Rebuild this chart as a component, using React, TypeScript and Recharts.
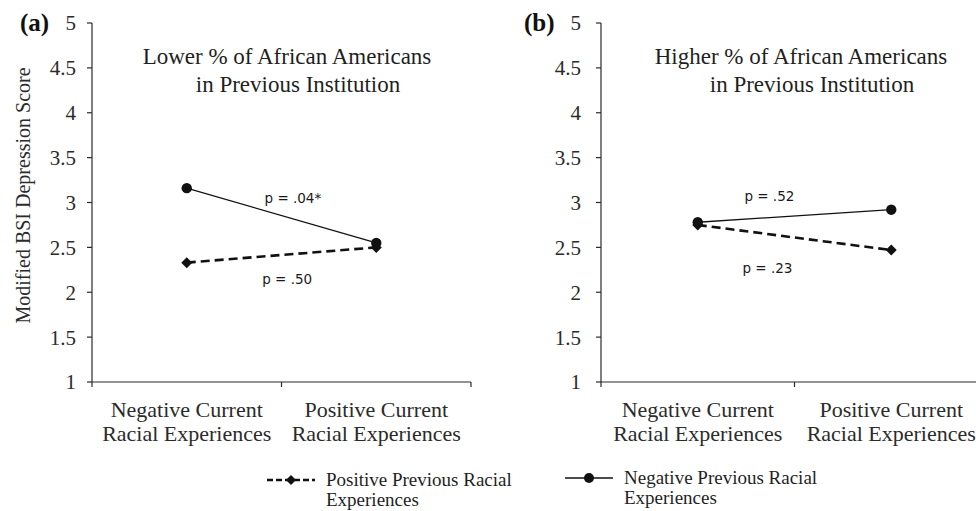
import { LineChart, Line, XAxis, YAxis, ReferenceDot, Label } from 'recharts';

// two-line category names for the x axis
const categories = [
  ['Negative Current', 'Racial Experiences'],
  ['Positive Current', 'Racial Experiences'],
];
const yTicks = [1, 1.5, 2, 2.5, 3, 3.5, 4, 4.5, 5];

// (a) lower % of African Americans in previous institution
const lowerNegPrev = [3.16, 2.55];
const lowerPosPrev = [2.33, 2.5];
// (b) higher % of African Americans in previous institution
const higherNegPrev = [2.78, 2.92];
const higherPosPrev = [2.75, 2.47];

const seriesNames = ['Positive Previous Racial Experiences', 'Negative Previous Racial Experiences'];

const lowerNotes = [
  { text: 'p = .04*', at: [1.06, 3.05] },
  { text: 'p = .50', at: [1.03, 2.15] },
];
const higherNotes = [
  { text: 'p = .52', at: [0.87, 3.07] },
  { text: 'p = .23', at: [0.86, 2.27] },
];

const SERIF = '"Liberation Serif", "Times New Roman", serif';
const SANS = '"DejaVu Sans", Verdana, sans-serif';
const INK = '#2b2b2b';

// each category sits in the middle of its own unit band on a 0..2 axis
const build = (neg: number[], pos: number[]) =>
  categories.map((_, i) => ({ x: i + 0.5, neg: neg[i], pos: pos[i] }));

// eslint-disable-next-line @typescript-eslint/no-explicit-any
const XTick = ({ x, y, payload }: any) => {
  const v = payload.value;
  if (Number.isInteger(v)) {
    return <line x1={x} x2={x} y1={y} y2={y + 5} stroke={INK} strokeWidth={1.2} />;
  }
  const lines = categories[Math.floor(v)];
  return (
    <g>
      {lines.map((t, i) => (
        <text
          key={i}
          x={x}
          y={y + 27 + i * 24}
          textAnchor="middle"
          dominantBaseline="central"
          fontFamily={SERIF}
          fontSize={22}
          fill={INK}
        >
          {t}
        </text>
      ))}
    </g>
  );
};

// eslint-disable-next-line @typescript-eslint/no-explicit-any
const CircleDot = (props: any) => (
  <circle key={`c${props.index}`} cx={props.cx} cy={props.cy} r={5.2} fill="#111" />
);

// eslint-disable-next-line @typescript-eslint/no-explicit-any
const DiamondDot = (props: any) => {
  const { cx, cy } = props;
  return (
    <polygon
      key={`d${props.index}`}
      points={`${cx},${cy - 5.5} ${cx + 5.5},${cy} ${cx},${cy + 5.5} ${cx - 5.5},${cy}`}
      fill="#111"
    />
  );
};

interface PanelProps {
  neg: number[];
  pos: number[];
  notes: { text: string; at: number[] }[];
  left: number;
  marginRight: number;
  tickMargin: number;
  yLabel?: string;
}

function Panel({ neg, pos, notes, left, marginRight, tickMargin, yLabel }: PanelProps) {
  const data = build(neg, pos);
  return (
    <div style={{ position: 'absolute', left, top: 0 }}>
      <LineChart width={490} height={511} data={data} margin={{ top: 23, right: marginRight, bottom: 69, left: 0 }}>
        <XAxis
          type="number"
          dataKey="x"
          domain={[0, 2]}
          ticks={[0, 0.5, 1, 1.5, 2]}
          interval={0}
          tickLine={false}
          tickSize={0}
          tickMargin={0}
          tick={<XTick />}
          height={60}
          stroke={INK}
          strokeWidth={1.2}
        />
        <YAxis
          type="number"
          domain={[1, 5]}
          ticks={yTicks}
          interval={0}
          width={92}
          tickSize={5}
          tickMargin={tickMargin}
          stroke={INK}
          strokeWidth={1.2}
          tick={{ fontFamily: SERIF, fontSize: 21, fill: INK }}
        >
          {yLabel && (
            <Label
              // eslint-disable-next-line @typescript-eslint/no-explicit-any
              content={({ viewBox }: any) => {
                const cx = viewBox.x + 23;
                const cy = viewBox.y + viewBox.height / 2 - 7;
                return (
                  <text
                    x={cx}
                    y={cy}
                    transform={`rotate(-90 ${cx} ${cy})`}
                    textAnchor="middle"
                    dominantBaseline="central"
                    fontFamily={SERIF}
                    fontSize={20}
                    fill={INK}
                  >
                    {yLabel}
                  </text>
                );
              }}
            />
          )}
        </YAxis>
        <Line
          type="linear"
          dataKey="pos"
          stroke="#111"
          strokeWidth={2.6}
          strokeDasharray="9 5"
          dot={DiamondDot}
          activeDot={false}
          isAnimationActive={false}
        />
        <Line
          type="linear"
          dataKey="neg"
          stroke="#111"
          strokeWidth={1.3}
          dot={CircleDot}
          activeDot={false}
          isAnimationActive={false}
        />
        {notes.map((n) => (
          <ReferenceDot
            key={n.text}
            x={n.at[0]}
            y={n.at[1]}
            r={0}
            fill="none"
            stroke="none"
            label={{ value: n.text, position: 'center', fontFamily: SANS, fontSize: 13.5, fill: '#1a1a1a' }}
          />
        ))}
      </LineChart>
    </div>
  );
}

const titleLine = (text: string, cx: number, cy: number) => (
  <div
    style={{
      position: 'absolute',
      left: cx - 200,
      top: cy - 15,
      width: 400,
      lineHeight: '30px',
      textAlign: 'center',
      fontFamily: SERIF,
      fontSize: 23,
      color: '#1f1f1f',
      whiteSpace: 'nowrap',
    }}
  >
    {text}
  </div>
);

const panelTag = (text: string, x: number) => (
  <div
    style={{
      position: 'absolute',
      left: x,
      top: 8,
      lineHeight: '30px',
      fontFamily: SERIF,
      fontWeight: 700,
      fontSize: 25,
      color: '#111',
    }}
  >
    {text}
  </div>
);

const legendItem = (name: string, x: number, y: number, dashed: boolean) => {
  const words = name.split(' ');
  return (
    <div style={{ position: 'absolute', left: x, top: y - 10 }}>
      <svg width={50} height={14} style={{ position: 'absolute', left: 0, top: 3 }}>
        <line
          x1={1}
          x2={49}
          y1={7}
          y2={7}
          stroke="#111"
          strokeWidth={dashed ? 2.4 : 1.3}
          strokeDasharray={dashed ? '6 3' : undefined}
        />
        {dashed ? (
          <polygon points="25,2 30,7 25,12 20,7" fill="#111" />
        ) : (
          <circle cx={25} cy={7} r={5} fill="#111" />
        )}
      </svg>
      <div
        style={{
          position: 'absolute',
          left: 60,
          top: 0,
          fontFamily: SERIF,
          fontSize: 19,
          lineHeight: '20px',
          color: '#1f1f1f',
          whiteSpace: 'nowrap',
        }}
      >
        {words.slice(0, 3).join(' ')}
        <br />
        {words.slice(3).join(' ')}
      </div>
    </div>
  );
};

export default function App() {
  return (
    <div
      style={{
        position: 'absolute',
        left: 0,
        top: 0,
        width: 976,
        height: 511,
        overflow: 'hidden',
        background: '#fff',
      }}
    >
      <Panel
        neg={lowerNegPrev}
        pos={lowerPosPrev}
        notes={lowerNotes}
        left={0}
        marginRight={19}
        tickMargin={11}
        yLabel="Modified BSI Depression Score"
      />
      <Panel
        neg={higherNegPrev}
        pos={higherPosPrev}
        notes={higherNotes}
        left={509}
        marginRight={11}
        tickMargin={15}
      />
      {panelTag('(a)', 20)}
      {panelTag('(b)', 524)}
      {titleLine('Lower % of African Americans', 287, 57)}
      {titleLine('in Previous Institution', 298, 85)}
      {titleLine('Higher % of African Americans', 801, 57)}
      {titleLine('in Previous Institution', 812, 85)}
      {legendItem(seriesNames[0], 266, 480, true)}
      {legendItem(seriesNames[1], 564, 478, false)}
    </div>
  );
}
